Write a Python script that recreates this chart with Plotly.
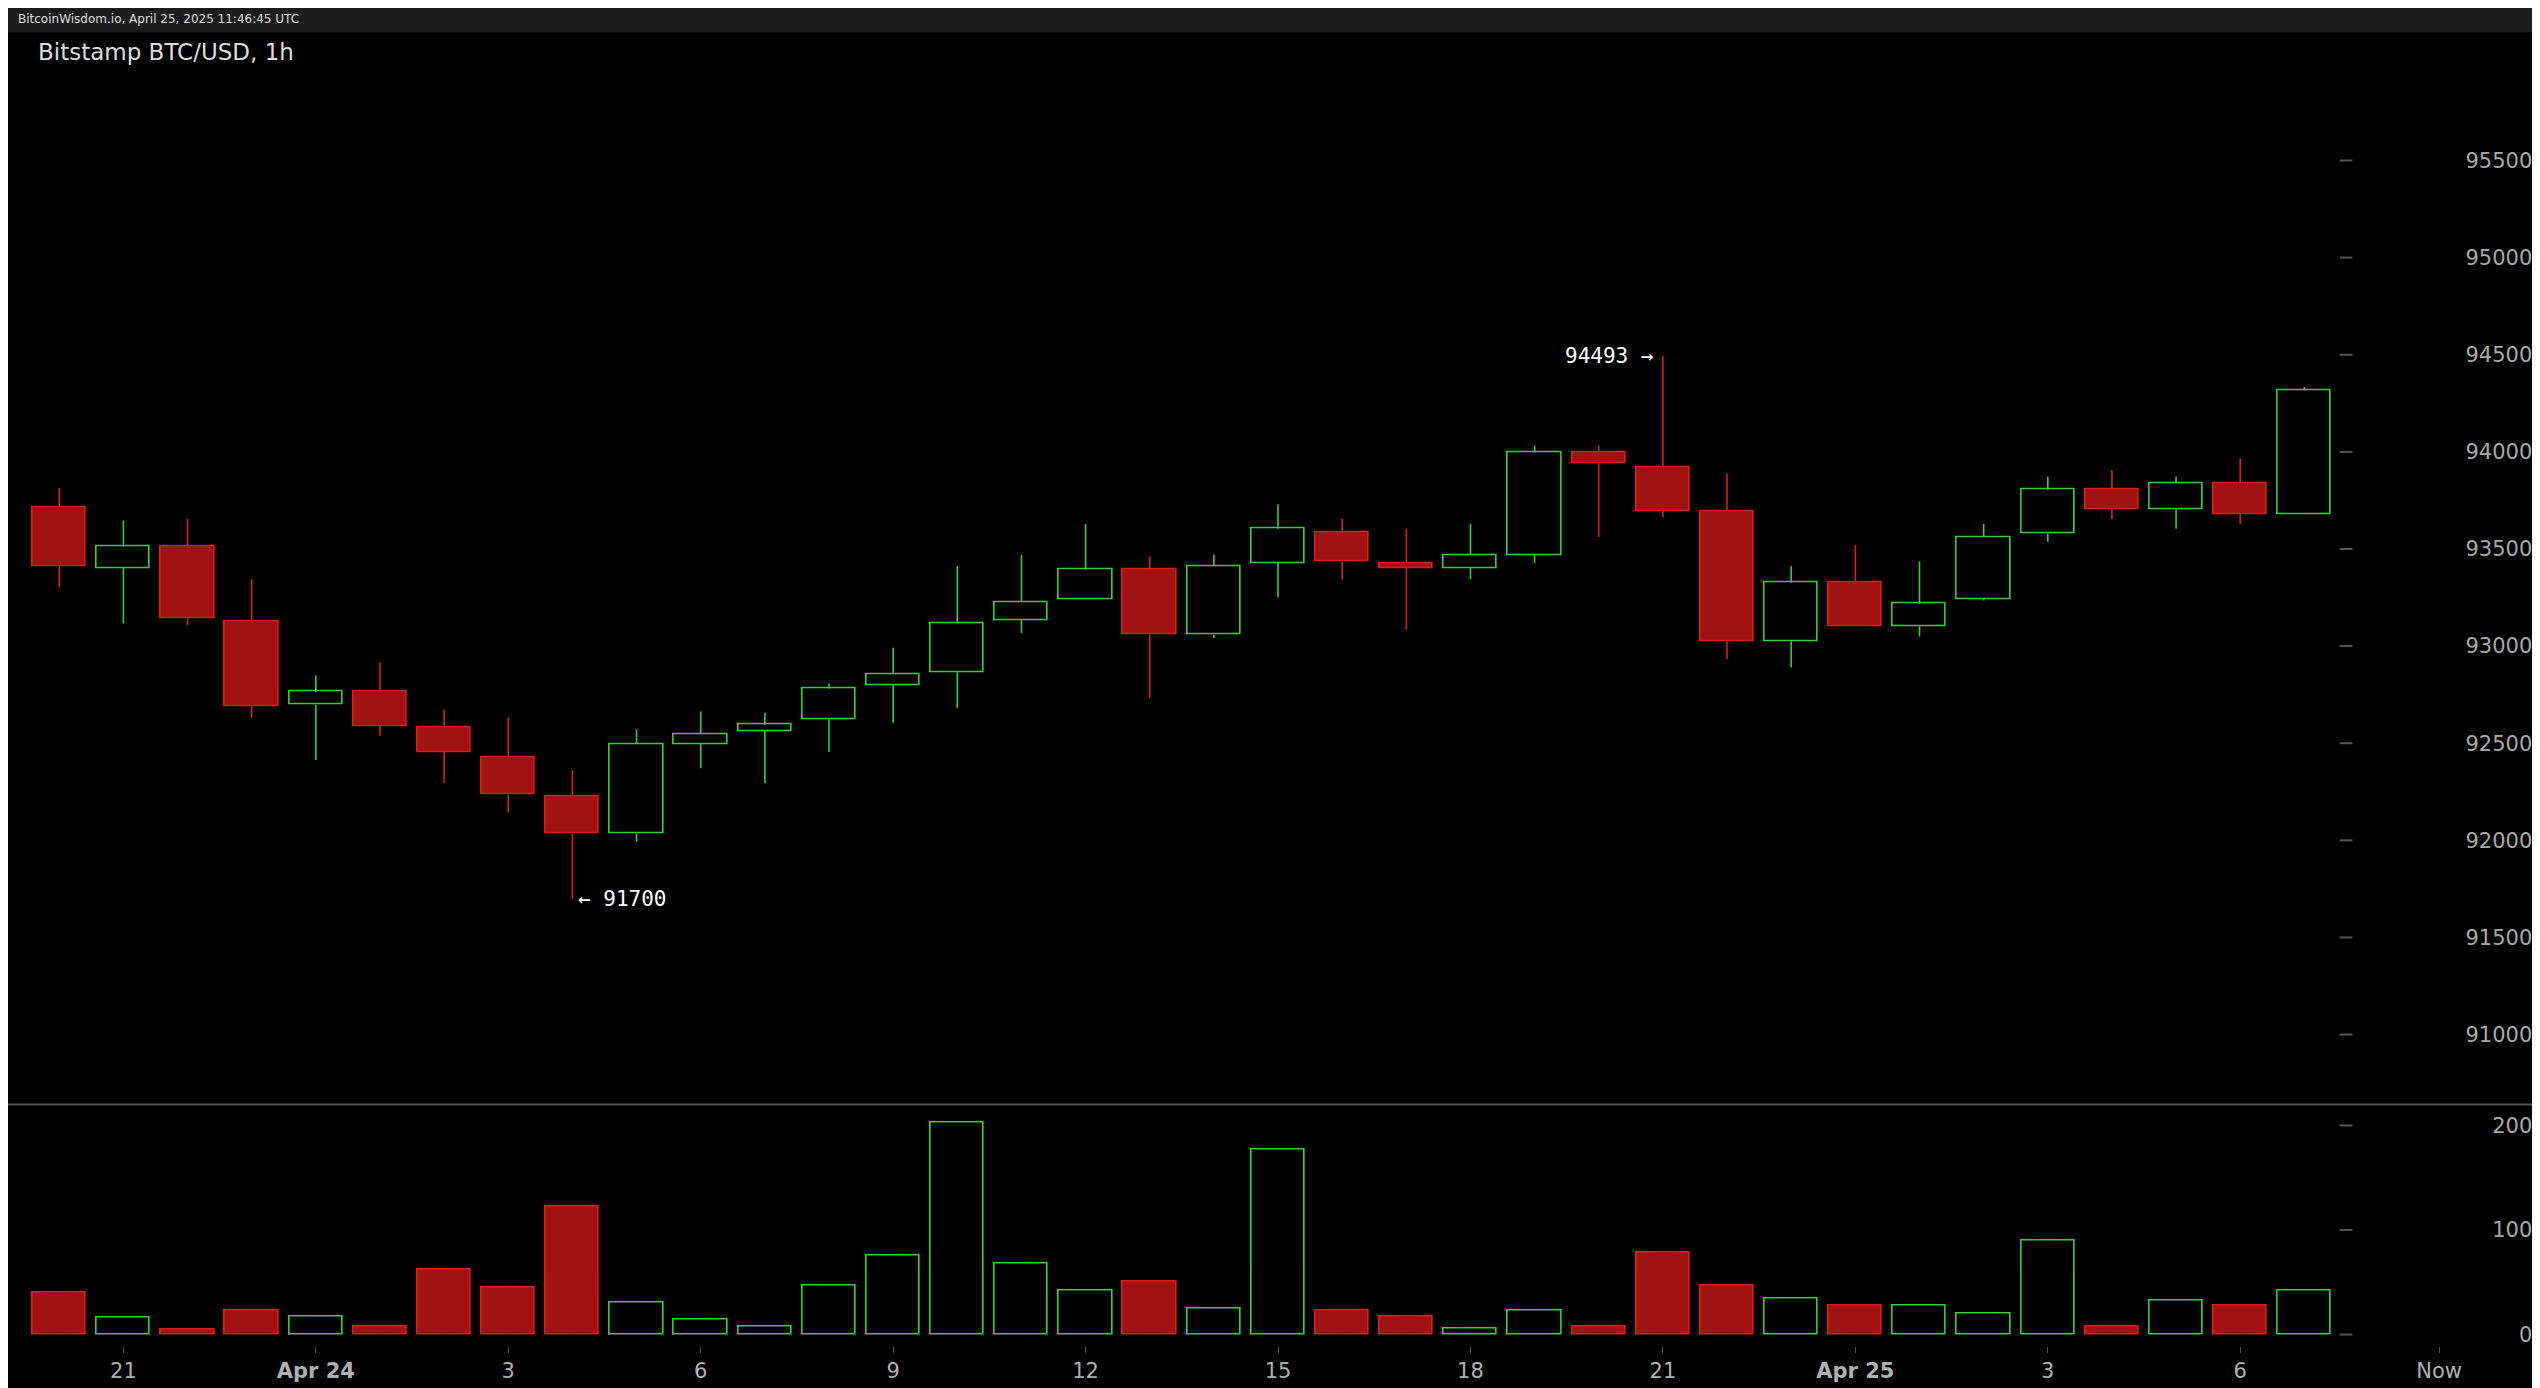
import plotly.graph_objects as go

hours = list(range(36))
open_ = [93713,93403,93512,93126,92698,92765,92581,92430,92228,92035,92497,92564,92623,92799,92866,93134,93243,93394,93059,93428,93587,93428,93403,93470,93998,93923,93696,93025,93327,93101,93243,93579,93805,93705,93839,93680]
close = [93411,93512,93143,92690,92765,92589,92455,92237,92035,92497,92547,92597,92782,92857,93117,93227,93394,93059,93411,93604,93436,93403,93470,93998,93940,93696,93025,93327,93101,93218,93562,93805,93705,93839,93680,94317]
high = [93814,93646,93654,93344,92849,92916,92673,92631,92362,92572,92664,92656,92807,92992,93411,93470,93629,93461,93470,93730,93654,93604,93629,94032,94032,94493,93889,93411,93520,93436,93629,93872,93906,93872,93965,94334]
low = [93302,93117,93109,92631,92413,92539,92295,92144,91700,91993,92371,92295,92455,92606,92681,93067,93243,92732,93042,93252,93344,93084,93344,93428,93562,93663,92933,92891,93101,93050,93235,93537,93654,93604,93629,93680]
volume = [40,16,5,23,17,8,62,45,122,31,14,8,47,76,203,68,42,51,25,177,23,17,6,23,8,78,47,34,28,28,20,90,8,33,28,42]
tick_pos = [1,4,7,10,13,16,19,22,25,28,31,34,37.1]
tick_text = ["21","<b>Apr 24</b>","3","6","9","12","15","18","21","<b>Apr 25</b>","3","6","Now"]
price_ticks = [91000,91500,92000,92500,93000,93500,94000,94500,95000,95500]
vol_ticks = [0,100,200]

RED_L = "#e01b1b"; RED_F = "#a11212"; GRN = "#33d033"
up = [c >= o for o, c in zip(open_, close)]

def wicks(sel):
    xs, ys = [], []
    for h in hours:
        if up[h] != sel:
            continue
        top, bot = max(open_[h], close[h]), min(open_[h], close[h])
        xs += [h, h, None, h, h, None]
        ys += [top, high[h], None, low[h], bot, None]
    return xs, ys

fig = go.Figure()
for sel, col in ((True, GRN), (False, RED_L)):
    xs, ys = wicks(sel)
    fig.add_trace(go.Scatter(x=xs, y=ys, mode="lines", line=dict(color=col, width=1.6),
                             hoverinfo="skip", showlegend=False))
fig.add_trace(go.Bar(x=hours, y=[max(abs(c-o), 8) for o, c in zip(open_, close)],
    base=[min(o, c) for o, c in zip(open_, close)], width=0.83,
    marker=dict(color=["#000000" if u else RED_F for u in up],
                line=dict(color=[GRN if u else RED_L for u in up], width=1.6)),
    showlegend=False, yaxis="y"))
fig.add_trace(go.Bar(x=hours, y=volume, width=0.83, xaxis="x", yaxis="y2",
    marker=dict(color=["#000000" if u else RED_F for u in up],
                line=dict(color=[GRN if u else RED_L for u in up], width=1.6)),
    showlegend=False))

ax_font = dict(family="DejaVu Sans", size=21, color="#a8a8a8")
fig.update_layout(
    width=2540, height=1388, paper_bgcolor="#000000", plot_bgcolor="#000000",
    margin=dict(l=0, r=0, t=0, b=0), bargap=0, barmode="overlay",
    xaxis=dict(domain=[0.003, 0.995], range=[-0.68, 38.6], tickvals=tick_pos, ticktext=tick_text,
               tickfont=dict(family="DejaVu Sans", size=21, color="#b0b0b0"), ticks="outside",
               ticklen=6, tickcolor="#555", showgrid=False, zeroline=False, anchor="y2",
               showline=False),
    yaxis=dict(domain=[0.21, 0.9825], range=[90640, 96160], side="right", tickvals=price_ticks,
               ticktext=[str(p) for p in price_ticks], ticklabeloverflow="allow",
               ticklabelposition="inside", tickfont=ax_font, showgrid=False, zeroline=False,
               ticks="", anchor="x"),
    yaxis2=dict(domain=[0.036, 0.21], range=[-11, 220], side="right", tickvals=vol_ticks,
                ticktext=[str(v) for v in vol_ticks], ticklabeloverflow="allow",
                ticklabelposition="inside", tickfont=ax_font, showgrid=False, zeroline=False,
                ticks="", anchor="x"),
    shapes=[
        dict(type="rect", xref="paper", yref="paper", x0=0, x1=1, y0=0.9825, y1=1,
             fillcolor="#1c1c1c", line=dict(width=0)),
        dict(type="line", xref="paper", yref="paper", x0=0, x1=1, y0=0.21, y1=0.21,
             line=dict(color="#555", width=2)),
    ] + [dict(type="line", xref="paper", yref="y", x0=0.918, x1=0.923, y0=p, y1=p,
              line=dict(color="#555", width=2)) for p in price_ticks]
      + [dict(type="line", xref="paper", yref="y2", x0=0.918, x1=0.923, y0=v, y1=v,
              line=dict(color="#555", width=2)) for v in vol_ticks],
    annotations=[
        dict(text="BitcoinWisdom.io, April 25, 2025 11:46:45 UTC", xref="paper", yref="paper",
             x=0.003, y=0.992, xanchor="left", yanchor="middle", showarrow=False,
             font=dict(family="DejaVu Sans", size=12, color="#dddddd")),
        dict(text="Bitstamp BTC/USD, 1h", xref="paper", yref="paper", x=0.011, y=0.9685,
             xanchor="left", yanchor="middle", showarrow=False,
             font=dict(family="DejaVu Sans", size=23, color="#dddddd")),
        dict(text="%d →" % max(high), x=25 - 0.1, y=max(high), xanchor="right", yanchor="middle",
             showarrow=False, font=dict(family="DejaVu Sans Mono", size=21, color="#ffffff")),
        dict(text="← %d" % min(low), x=8 + 0.05, y=min(low), xanchor="left", yanchor="middle",
             showarrow=False, font=dict(family="DejaVu Sans Mono", size=21, color="#ffffff")),
    ],
)
fig.write_html("out.html")
